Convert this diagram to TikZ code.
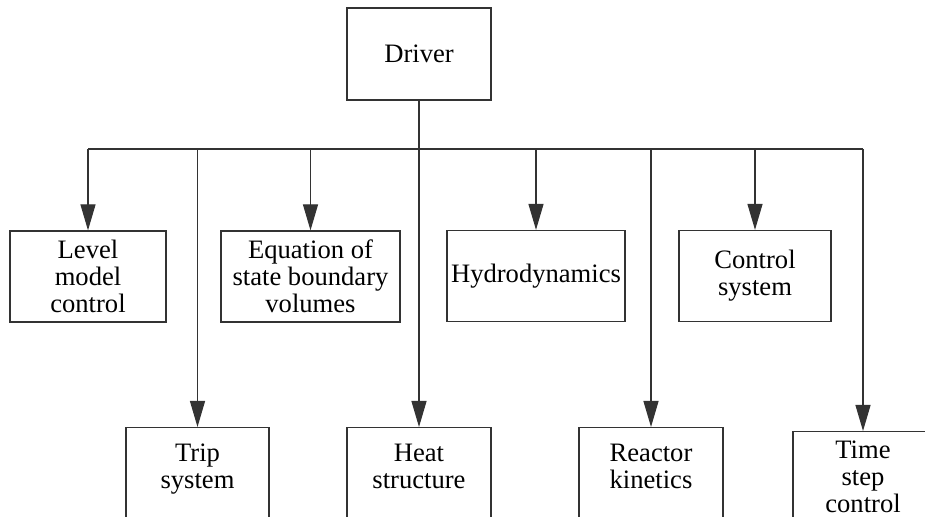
\documentclass[tikz,border=0pt]{standalone}
\usepackage{fontspec}
\setmainfont{Liberation Serif}
\usetikzlibrary{arrows.meta}
\begin{document}
\begin{tikzpicture}[x=0.5pt,y=-0.5pt,
    box/.style={draw=black!80,line width=0.6pt,align=center,inner sep=2pt,
      font=\fontsize{13.3}{13.6}\selectfont},
    topbox/.style={box,minimum height=45.5pt},
    lowbox/.style={box,anchor=north,inner ysep=8pt,text depth=40pt},
    link/.style={draw=black!80,line width=0.6pt},
    feed/.style={link,-{Triangle[length=13pt,width=7.5pt]}}]
    \clip (0,0) rectangle (925,517);
    \coordinate (bus) at (0,149);

    \node[box,minimum width=72pt,minimum height=46pt] (driver) at (419,54) {Driver};

    \node[topbox,minimum width=78pt] (level) at (88,276.5) {Level\\model\\control};
    \node[topbox,minimum width=89.5pt] (eos) at (310.5,276.5) {Equation of\\state boundary\\volumes};
    \node[topbox,minimum width=88pt] (hydro) at (536,276) {Hydrodynamics};
    \node[topbox,minimum width=76pt] (ctrl) at (755,276) {Control\\system};

    \node[lowbox,minimum width=71.5pt] (trip) at (197.5,427) {Trip\\system};
    \node[lowbox,minimum width=72pt] (heat) at (419,427) {Heat\\structure};
    \node[lowbox,minimum width=72pt] (reactor) at (651,427) {Reactor\\kinetics};
    \node[lowbox,minimum width=70pt,inner ysep=4.5pt] (tstep) at (863,431) {Time\\step\\control};

    \draw[link] (level.north |- bus) -- (tstep.north |- bus);
    \draw[feed] (driver) -- (heat);
    \draw[feed] (level.north |- bus) -- (level);
    \draw[feed] (trip.north |- bus) -- (trip);
    \draw[feed] (eos.north |- bus) -- (eos);
    \draw[feed] (hydro.north |- bus) -- (hydro);
    \draw[feed] (reactor.north |- bus) -- (reactor);
    \draw[feed] (ctrl.north |- bus) -- (ctrl);
    \draw[feed] (tstep.north |- bus) -- (tstep);
\end{tikzpicture}
\end{document}
